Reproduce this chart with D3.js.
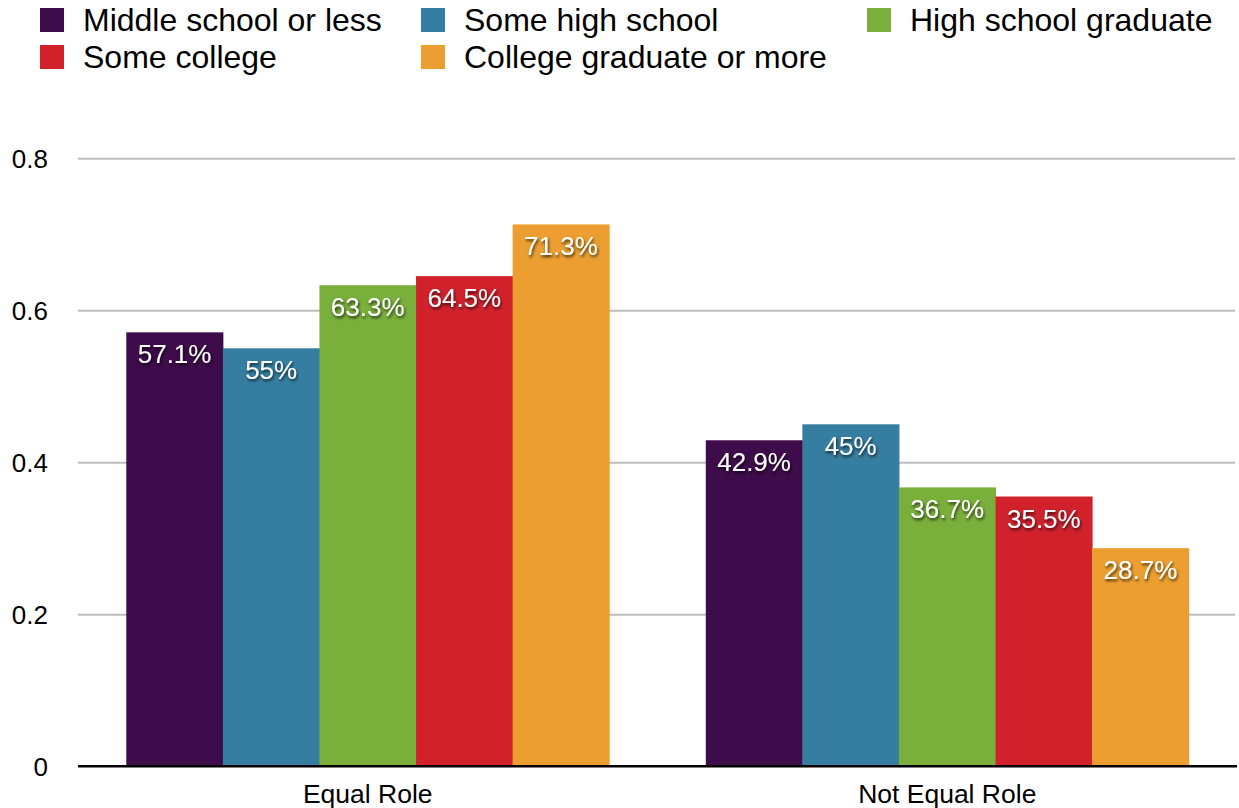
<!DOCTYPE html>
<html>
<head>
<meta charset="utf-8">
<script src="https://cdn.jsdelivr.net/npm/d3@7"></script>
<style>
  html, body { margin: 0; padding: 0; background: #fff; }
  svg { display: block; font-family: "Liberation Sans", Arial, Helvetica, sans-serif; }
</style>
</head>
<body>
<svg id="chart" width="1239" height="808"></svg>
<script>
const categories = ["Equal Role", "Not Equal Role"];
const seriesNames = ["Middle school or less", "Some high school", "High school graduate", "Some college", "College graduate or more"];
const middleSchool = [0.571, 0.429];
const someHighSchool = [0.55, 0.45];
const highSchoolGrad = [0.633, 0.367];
const someCollege = [0.645, 0.355];
const collegeGrad = [0.713, 0.287];
const valueLabels = [["57.1%", "42.9%"], ["55%", "45%"], ["63.3%", "36.7%"], ["64.5%", "35.5%"], ["71.3%", "28.7%"]];
const yTicks = [0, 0.2, 0.4, 0.6, 0.8];
const yTickLabels = ["0", "0.2", "0.4", "0.6", "0.8"];
const colors = ["#3e0b4b", "#367ea1", "#7aaf3c", "#d1222c", "#ec9f30"];

const seriesValues = [middleSchool, someHighSchool, highSchoolGrad, someCollege, collegeGrad];

const svg = d3.select("#chart");
const mLeft = 78, mRight = 1237, mTop = 158.3, mBottom = 766.3;

const y = d3.scaleLinear().domain([0, 0.8]).range([mBottom, mTop]);
const x0 = d3.scaleBand().domain(categories).range([mLeft, mRight]).paddingInner(1/6).paddingOuter(1/12);
const x1 = d3.scaleBand().domain(d3.range(seriesNames.length)).range([0, x0.bandwidth()]);

// shadow filter
const defs = svg.append("defs");
const f = defs.append("filter").attr("id", "shadow").attr("x", "-20%").attr("y", "-30%").attr("width", "140%").attr("height", "170%");
f.append("feDropShadow").attr("dx", 1).attr("dy", 2).attr("stdDeviation", 1.6)
  .attr("flood-color", "#000").attr("flood-opacity", 0.75);

// y axis + gridlines
const yAxis = d3.axisLeft(y).tickValues(yTicks).tickFormat((d, i) => yTickLabels[i]).tickSize(0).tickPadding(0);
const gy = svg.append("g").attr("transform", `translate(${mLeft},0)`).call(yAxis);
gy.select(".domain").remove();
gy.selectAll(".tick text").attr("x", -30).attr("dy", "0.35em")
  .style("font-size", "26px").style("fill", "#000").style("font-family", "Liberation Sans, Arial, sans-serif");
gy.selectAll(".tick").filter(d => d !== 0).append("line")
  .attr("x1", 0).attr("x2", 1235 - mLeft).attr("stroke", "#bdbdbd").attr("stroke-width", 2);

// bars
const groups = svg.append("g").selectAll("g").data(categories).join("g")
  .attr("transform", d => `translate(${x0(d)},0)`);

groups.each(function(cat, ci) {
  const g = d3.select(this);
  seriesValues.forEach((vals, si) => {
    g.append("rect")
      .attr("x", x1(si))
      .attr("y", y(vals[ci]))
      .attr("width", x1.bandwidth() + 0.5)
      .attr("height", y(0) - y(vals[ci]))
      .attr("fill", colors[si]);
  });
  seriesValues.forEach((vals, si) => {
    g.append("text")
      .attr("x", x1(si) + x1.bandwidth() / 2)
      .attr("y", y(vals[ci]) + 31)
      .attr("text-anchor", "middle")
      .attr("filter", "url(#shadow)")
      .style("font-size", "26px")
      .style("fill", "#fff")
      .text(valueLabels[si][ci]);
  });
});

// x axis
const xAxis = d3.axisBottom(x0).tickSize(0).tickPadding(0);
const gx = svg.append("g").attr("transform", `translate(0,${mBottom})`).call(xAxis);
gx.select(".domain").remove();
gx.append("line").attr("x1", mLeft).attr("x2", mRight).attr("stroke", "#000").attr("stroke-width", 2.5);
gx.selectAll(".tick text").attr("y", 37).attr("dy", null)
  .style("font-size", "26.5px").style("fill", "#000").style("font-family", "Liberation Sans, Arial, sans-serif");

// legend
const legendPos = [[40, 20], [421, 20], [867, 20], [40, 57], [421, 57]];
const legend = svg.append("g").selectAll("g").data(seriesNames).join("g")
  .attr("transform", (d, i) => `translate(${legendPos[i][0]},${legendPos[i][1]})`);
legend.append("rect").attr("x", 0).attr("y", -12).attr("width", 24).attr("height", 24)
  .attr("fill", (d, i) => colors[i]);
legend.append("text").attr("x", 43).attr("y", 0).attr("dy", "0.35em")
  .style("font-size", "32px").style("fill", "#000").text(d => d);
</script>
</body>
</html>
